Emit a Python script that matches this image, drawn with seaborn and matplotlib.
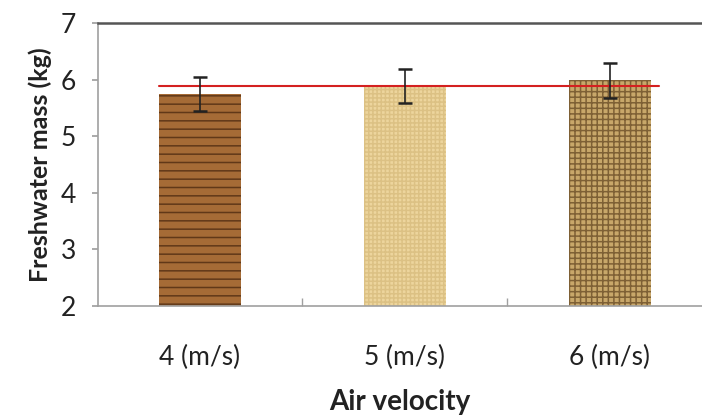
import matplotlib
matplotlib.use("Agg")
import matplotlib.pyplot as plt
import seaborn as sns
import numpy as np
import pandas as pd

# data
velocities = ["4 (m/s)", "5 (m/s)", "6 (m/s)"]
mass = [5.75, 5.89, 5.99]
mass_err = [0.30, 0.30, 0.31]
mean_line = 5.88
y_ticks = [2, 3, 4, 5, 6, 7]

bar_colors = ["#A56B36", "#EDD59D", "#C8A76A"]
hatch_colors = ["#603818", "#DCC184", "#7E6035"]
hatches = ["--", "++++", "+++"]

sns.set_theme(style="white")
plt.rcParams["font.family"] = ["Lato", "DejaVu Sans"]
plt.rcParams["hatch.linewidth"] = 1.1

df = pd.DataFrame({"velocity": velocities, "mass": mass})

fig = plt.figure(figsize=(7.02, 4.19), dpi=100)
ax = fig.add_axes([0.140, 0.270, 0.860, 0.675])

sns.barplot(data=df, x="velocity", y="mass", ax=ax, width=0.4,
            errorbar=None, bottom=0)
for patch, c, hc, h in zip(ax.patches, bar_colors, hatch_colors, hatches):
    patch.set_facecolor(c)
    patch.set_edgecolor(hc)
    patch.set_hatch(h)
    patch.set_linewidth(0)

ax.errorbar(np.arange(len(mass)), mass, yerr=mass_err, fmt="none",
            ecolor="#222222", elinewidth=1.2, capsize=5, capthick=1.8, zorder=5)

# mean line
ax.plot([-0.2, 2.24], [mean_line, mean_line], color="#D42020", lw=1.5, zorder=4)

ax.set_ylim(2, 7)
ax.set_xlim(-0.495, 2.449)
ax.set_yticks(y_ticks)
ax.set_xticks(range(len(velocities)))
ax.set_xticklabels(velocities)
ax.set_xticks([0.5, 1.5], minor=True)

ax.tick_params(axis="y", which="major", left=True, length=4, color="#A0A0A0",
               labelsize=19, pad=12, labelcolor="#222222")
ax.tick_params(axis="x", which="major", bottom=False, labelsize=19, pad=22,
               labelcolor="#222222")
ax.tick_params(axis="x", which="minor", bottom=True, direction="in", length=6,
               color="#A0A0A0")

for side in ["left", "bottom"]:
    ax.spines[side].set_color("#A0A0A0")
    ax.spines[side].set_linewidth(1.2)
ax.spines["top"].set_color("#555555")
ax.spines["top"].set_linewidth(1.8)
ax.spines["right"].set_visible(False)

ax.set_ylabel("Freshwater mass (kg)", fontsize=18, fontweight="bold",
              color="#222222", labelpad=6)
ax.set_xlabel("Air velocity", fontsize=20, fontweight="bold",
              color="#222222", labelpad=14)

fig.savefig("out.png", dpi=100)
